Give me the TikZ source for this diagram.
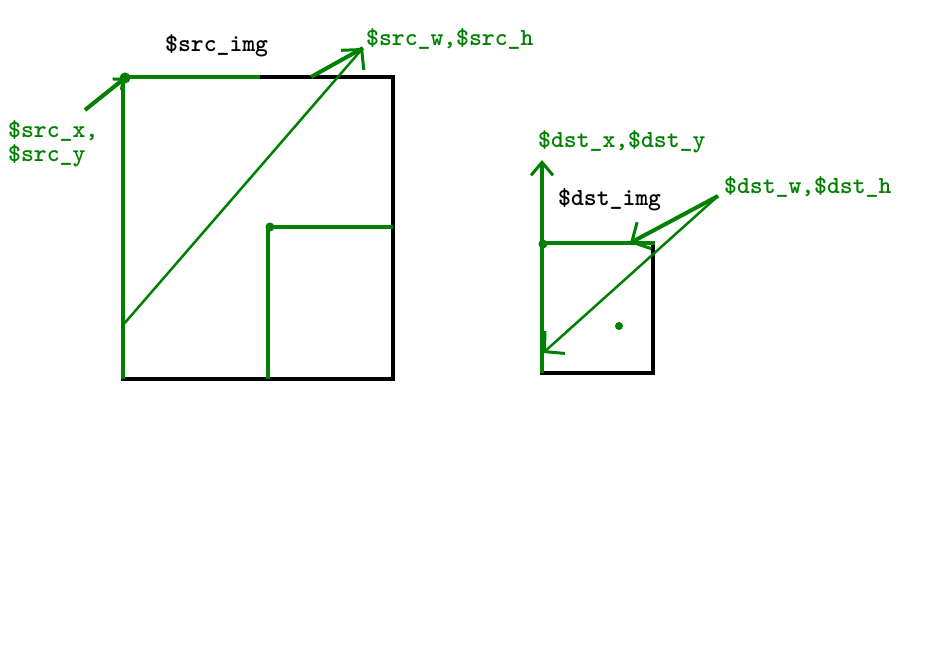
\documentclass[tikz,border=0pt]{standalone}
\usepackage{fontspec}
\usetikzlibrary{arrows.meta}
\definecolor{gr}{RGB}{0,128,0}
\tikzset{
  lbl/.style={font=\ttfamily\bfseries\fontsize{24.5}{28}\selectfont, inner sep=0pt, anchor=west},
  glbl/.style={lbl, text=gr},
  blk/.style={draw=black, line width=3.5pt},
  gline/.style={draw=gr, line width=4pt},
  gthin/.style={draw=gr, line width=2.5pt},
  barb/.style={-{Straight Barb[length=14pt,width=30pt,line width=3pt]}},
  upbarb/.style={-{Straight Barb[length=13pt,width=22pt,line width=3pt]}},
  smallbarb/.style={-{Straight Barb[length=8pt,width=14pt,line width=3pt]}},
  gdot/.style={fill=gr, draw=none}
}
\begin{document}
\begin{tikzpicture}[x=1pt,y=-1pt]
\useasboundingbox (0,0) rectangle (942,655);
% ---------- source image ----------
\coordinate (sTL) at (123,77);
\coordinate (sBR) at (393,379);
\coordinate (sTopG) at (260,77);
\coordinate (sBL) at (123,379);
\coordinate (iB) at (268,379);
\coordinate (iTL) at (268,227);
\coordinate (iR) at (393,227);
\coordinate (dStart) at (123,325);
\coordinate (wTip) at (363,48);
\coordinate (tStart) at (311,77);
\coordinate (xStart) at (85,110);
\coordinate (xTip) at (125,78);
\draw[blk] (sTL) rectangle (sBR);
\draw[gline] (sBL) -- (sTL) -- (sTopG);
\draw[gline] (iB) -- (iTL) -- (iR);
\draw[gthin, barb] (dStart) -- (wTip);
\draw[gline] (tStart) -- (wTip);
\draw[gline, smallbarb] (xStart) -- (xTip);
\fill[gdot] (xTip) circle (5.5pt);
\fill[gdot] (iTL) ++(2,0) circle (4.5pt);
\node[lbl] (srcimg) at (165,46) {\$src\_img};
\node[glbl] (srcwh) at (366,39) {\$src\_w,\$src\_h};
\node[glbl] (srcx) at (8,131) {\$src\_x,};
\node[glbl] (srcy) at (8,156) {\$src\_y};
% ---------- destination image ----------
\coordinate (dTL) at (542,243);
\coordinate (dBR) at (653,373);
\coordinate (dTR) at (655,243);
\coordinate (dBL) at (542,373);
\coordinate (dUp) at (542,160);
\coordinate (wh) at (718,196);
\coordinate (whTip1) at (630,243);
\coordinate (whTip2) at (543,353);
\coordinate (dDot) at (619,326);
\draw[blk] (dTL) rectangle (dBR);
\draw[gline] (dTL) -- (dTR);
\draw[gline, upbarb] (dBL) -- (dUp);
\draw[gline, barb] (wh) -- (whTip1);
\draw[gthin, barb] (wh) -- (whTip2);
\fill[gdot] (dTL) ++(1,1) circle (4.5pt);
\fill[gdot] (dDot) circle (4pt);
\node[glbl] (dstxy) at (538,142) {\$dst\_x,\$dst\_y};
\node[lbl] (dstimg) at (558,200) {\$dst\_img};
\node[glbl] (dstwh) at (724,187) {\$dst\_w,\$dst\_h};
\end{tikzpicture}
\end{document}
